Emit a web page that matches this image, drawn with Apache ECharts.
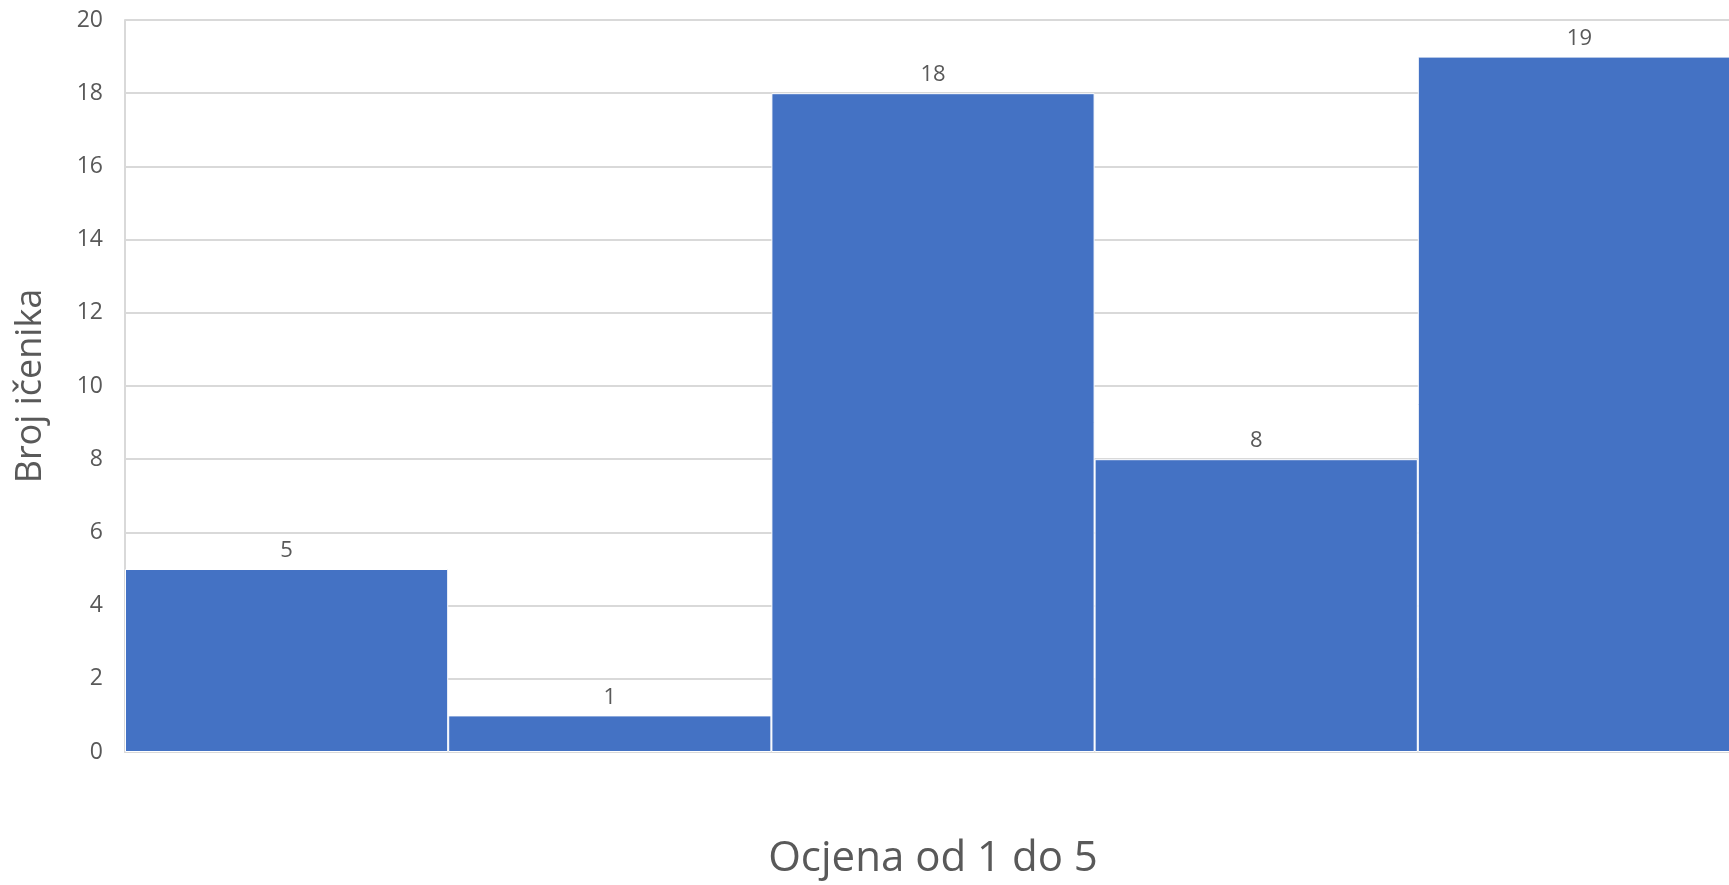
<!DOCTYPE html>
<html><head><meta charset="utf-8">
<script src="https://cdn.jsdelivr.net/npm/echarts@6/dist/echarts.min.js"></script>
<style>html,body{margin:0;padding:0;background:#fff}#c{width:1729px;height:885px}</style>
</head><body><div id="c"></div>
<script>
var categories = ['1', '2', '3', '4', '5'];
var values = [5, 1, 18, 8, 19];
var yTicks = [0, 2, 4, 6, 8, 10, 12, 14, 16, 18, 20];
var xTitle = 'Ocjena od 1 do 5';
var yTitle = 'Broj ičenika';

var chart = echarts.init(document.getElementById('c'), null, {renderer: 'canvas'});
var font = 'Open Sans';
chart.setOption({
  animation: false,
  grid: {left: 125, right: -12, top: 20, bottom: 133, containLabel: false, outerBoundsMode: 'none'},
  xAxis: {
    type: 'category', data: categories,
    name: xTitle, nameLocation: 'middle', nameGap: 86,
    nameTextStyle: {fontFamily: font, fontSize: 42, color: '#595959'},
    axisLabel: {show: false}, axisTick: {show: false},
    axisLine: {lineStyle: {color: '#d9d9d9', width: 2}}
  },
  yAxis: {
    type: 'value', min: yTicks[0], max: yTicks[yTicks.length - 1], interval: 2,
    name: yTitle, nameLocation: 'middle', nameGap: 76, nameRotate: 90,
    nameTextStyle: {fontFamily: font, fontSize: 36, color: '#595959'},
    axisLabel: {fontFamily: font, fontSize: 23, color: '#595959', margin: 22},
    axisLine: {show: true, lineStyle: {color: '#d9d9d9', width: 2}},
    axisTick: {show: false},
    splitLine: {lineStyle: {color: '#d9d9d9', width: 2}}
  },
  series: [{
    type: 'bar', data: values, barCategoryGap: 0,
    itemStyle: {color: '#4472C4', borderColor: '#ffffff', borderWidth: 1},
    label: {show: true, position: 'top', distance: 7, fontFamily: font, fontSize: 22, color: '#595959'}
  }]
});
</script></body></html>
